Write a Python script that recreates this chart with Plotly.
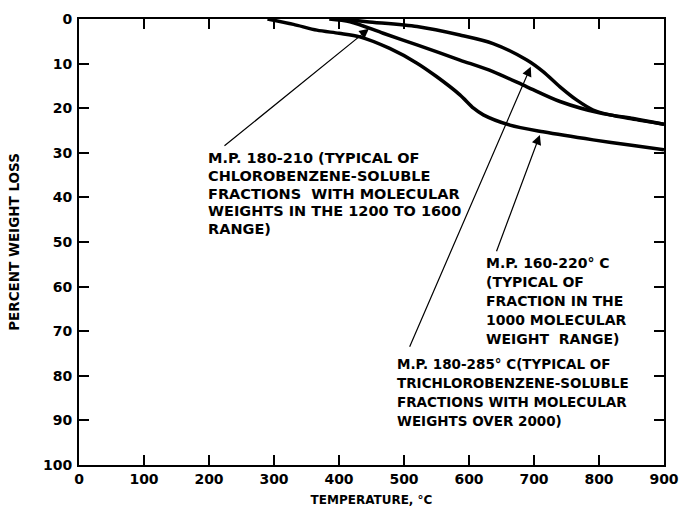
import plotly.graph_objects as go

# Curve data (temperature °C, percent weight loss)
temp_low = [290, 330, 366, 400, 432, 478, 520, 550, 586, 607, 622, 663, 714, 791, 850, 900]
loss_low = [0, 1.2, 2.5, 3.2, 4.0, 6.6, 9.9, 12.9, 17.0, 20.0, 21.5, 23.8, 25.3, 27.1, 28.3, 29.3]

temp_mid = [385, 417, 468, 520, 586, 637, 689, 740, 802, 853, 900]
loss_mid = [0, 0.6, 3.2, 5.8, 9.2, 11.8, 15.2, 18.5, 21.1, 22.3, 23.6]

temp_top = [405, 443, 520, 586, 637, 689, 714, 740, 766, 791, 817, 850, 900]
loss_top = [0, 0.6, 1.7, 3.6, 5.5, 9.2, 11.8, 15.2, 18.2, 20.4, 21.5, 22.4, 23.6]

x_ticks = [0, 100, 200, 300, 400, 500, 600, 700, 800, 900]
y_ticks = [0, 10, 20, 30, 40, 50, 60, 70, 80, 90, 100]

lines_mid = ["M.P. 180-210 (TYPICAL OF", "CHLOROBENZENE-SOLUBLE",
             "FRACTIONS  WITH MOLECULAR", "WEIGHTS IN THE 1200 TO 1600", "RANGE)"]
lines_low = ["M.P. 160-220° C", "(TYPICAL OF", "FRACTION IN THE",
             "1000 MOLECULAR", "WEIGHT  RANGE)"]
lines_top = ["M.P. 180-285° C(TYPICAL OF", "TRICHLOROBENZENE-SOLUBLE",
             "FRACTIONS WITH MOLECULAR", "WEIGHTS OVER 2000)"]

FONT = "DejaVu Sans"

fig = go.Figure()
for xs, ys in [(temp_low, loss_low), (temp_mid, loss_mid), (temp_top, loss_top)]:
    fig.add_trace(go.Scatter(x=xs, y=ys, mode="lines",
                             line=dict(color="black", width=3.5, shape="spline", smoothing=0.8),
                             showlegend=False, hoverinfo="skip"))

# text blocks: (x, y of first line, lines, font size, line spacing px)
blocks = [
    (195, 31.2, lines_mid, 14.5, 17.7),
    (623, 54.6, lines_low, 14, 19),
    (486, 77.3, lines_top, 13.5, 19),
]
for tx, ty, lines, fs, sp in blocks:
    for i, ln in enumerate(lines):
        fig.add_annotation(x=tx, y=ty, text=ln, showarrow=False, xanchor="left", yanchor="middle",
                           yshift=-i * sp, align="left",
                           font=dict(family=FONT, size=fs, color="black", weight="bold"))

# arrows: (tip_x, tip_y, tail_x, tail_y)
arrows = [
    (446, 2.2, 221.5, 28.7),
    (695, 10.7, 507.7, 73.8),
    (709, 26.0, 641.5, 52.4),
]
for x1, y1, x0, y0 in arrows:
    fig.add_annotation(x=x1, y=y1, ax=x0, ay=y0, axref="x", ayref="y", xref="x", yref="y",
                       text="", showarrow=True, arrowhead=2, arrowsize=1.6, arrowwidth=1.2,
                       arrowcolor="black", standoff=0)

fig.update_layout(
    width=683, height=515,
    margin=dict(l=79, r=19, t=19, b=50),
    plot_bgcolor="white", paper_bgcolor="white",
    font=dict(family=FONT, size=13, color="black"),
)
fig.update_xaxes(range=[0, 900], tickvals=x_ticks, ticks="inside", ticklen=10, tickwidth=1.5,
                 tickcolor="black", showline=True, linecolor="black", linewidth=2, mirror="ticks",
                 showgrid=False, zeroline=False, automargin=False,
                 tickfont=dict(family=FONT, size=14, weight="bold"),
                 title=dict(text="TEMPERATURE, °C",
                            font=dict(family=FONT, size=12, weight="bold"), standoff=10))
fig.update_yaxes(range=[100, 0], tickvals=y_ticks, ticks="inside", ticklen=10, tickwidth=1.5,
                 tickcolor="black", showline=True, linecolor="black", linewidth=2, mirror="ticks",
                 showgrid=False, zeroline=False, automargin=False, ticklabelstandoff=2,
                 tickfont=dict(family=FONT, size=14, weight="bold"),
                 title=dict(text="PERCENT WEIGHT LOSS",
                            font=dict(family=FONT, size=13.5, weight="bold"), standoff=20))

fig.write_html("out.html", config={"displayModeBar": False},
               post_script="document.body.style.margin='0';document.body.style.overflow='hidden';")
